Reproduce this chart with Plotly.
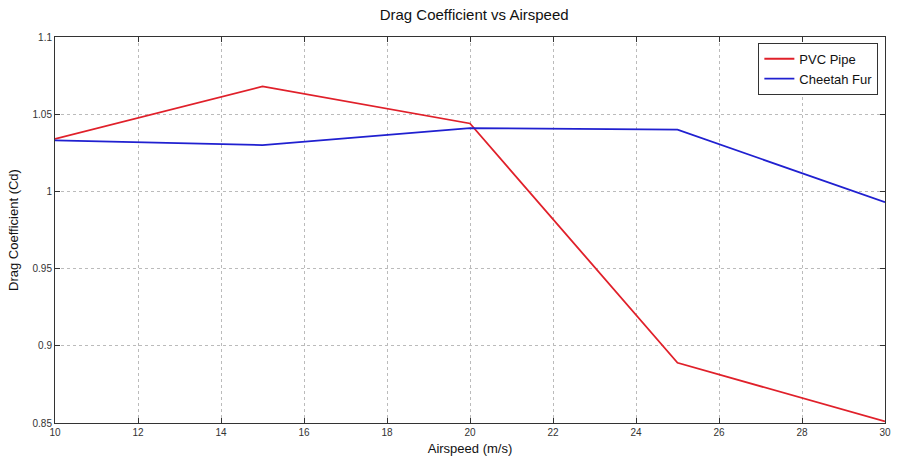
import plotly.graph_objects as go

airspeed = [10, 15, 20, 25, 30]
pvc_pipe = [1.034, 1.068, 1.044, 0.889, 0.851]
cheetah_fur = [1.033, 1.030, 1.041, 1.040, 0.993]

x_ticks = [10, 12, 14, 16, 18, 20, 22, 24, 26, 28, 30]
y_ticks = [0.85, 0.9, 0.95, 1.0, 1.05, 1.1]
y_tick_labels = ["0.85", "0.9", "0.95", "1", "1.05", "1.1"]

fig = go.Figure()
fig.add_trace(go.Scatter(x=airspeed, y=pvc_pipe, mode="lines", name="PVC Pipe",
                         line=dict(color="#e0202a", width=1.8)))
fig.add_trace(go.Scatter(x=airspeed, y=cheetah_fur, mode="lines", name="Cheetah Fur",
                         line=dict(color="#2020d0", width=1.8)))

axis_common = dict(showline=True, linecolor="#333", linewidth=1, mirror="ticks",
                   ticks="inside", ticklen=5, tickcolor="#333",
                   showgrid=True, gridcolor="#bbbbbb", griddash="dot", gridwidth=1,
                   zeroline=False, tickfont=dict(size=10, color="#333"))

fig.update_layout(
    width=898, height=461,
    paper_bgcolor="white", plot_bgcolor="white",
    font=dict(family="Liberation Sans, Arial, sans-serif", color="#111"),
    margin=dict(l=55, r=7, t=37, b=38),
    title=dict(text="Drag Coefficient vs Airspeed", x=0.528, xanchor="center",
               y=0.967, yanchor="middle", font=dict(size=15)),
    xaxis=dict(range=[10, 30], tickvals=x_ticks,
               title=dict(text="Airspeed (m/s)", font=dict(size=13), standoff=6),
               **axis_common),
    yaxis=dict(range=[0.85, 1.1], tickvals=y_ticks, ticktext=y_tick_labels,
               title=dict(text="Drag Coefficient (Cd)", font=dict(size=13), standoff=10),
               **axis_common),
    legend=dict(x=0.992, y=0.985, xanchor="right", yanchor="top",
                bordercolor="#333", borderwidth=1, bgcolor="white",
                font=dict(size=13), tracegroupgap=0, itemwidth=30),
    showlegend=True,
)

fig.write_html("out.html")
